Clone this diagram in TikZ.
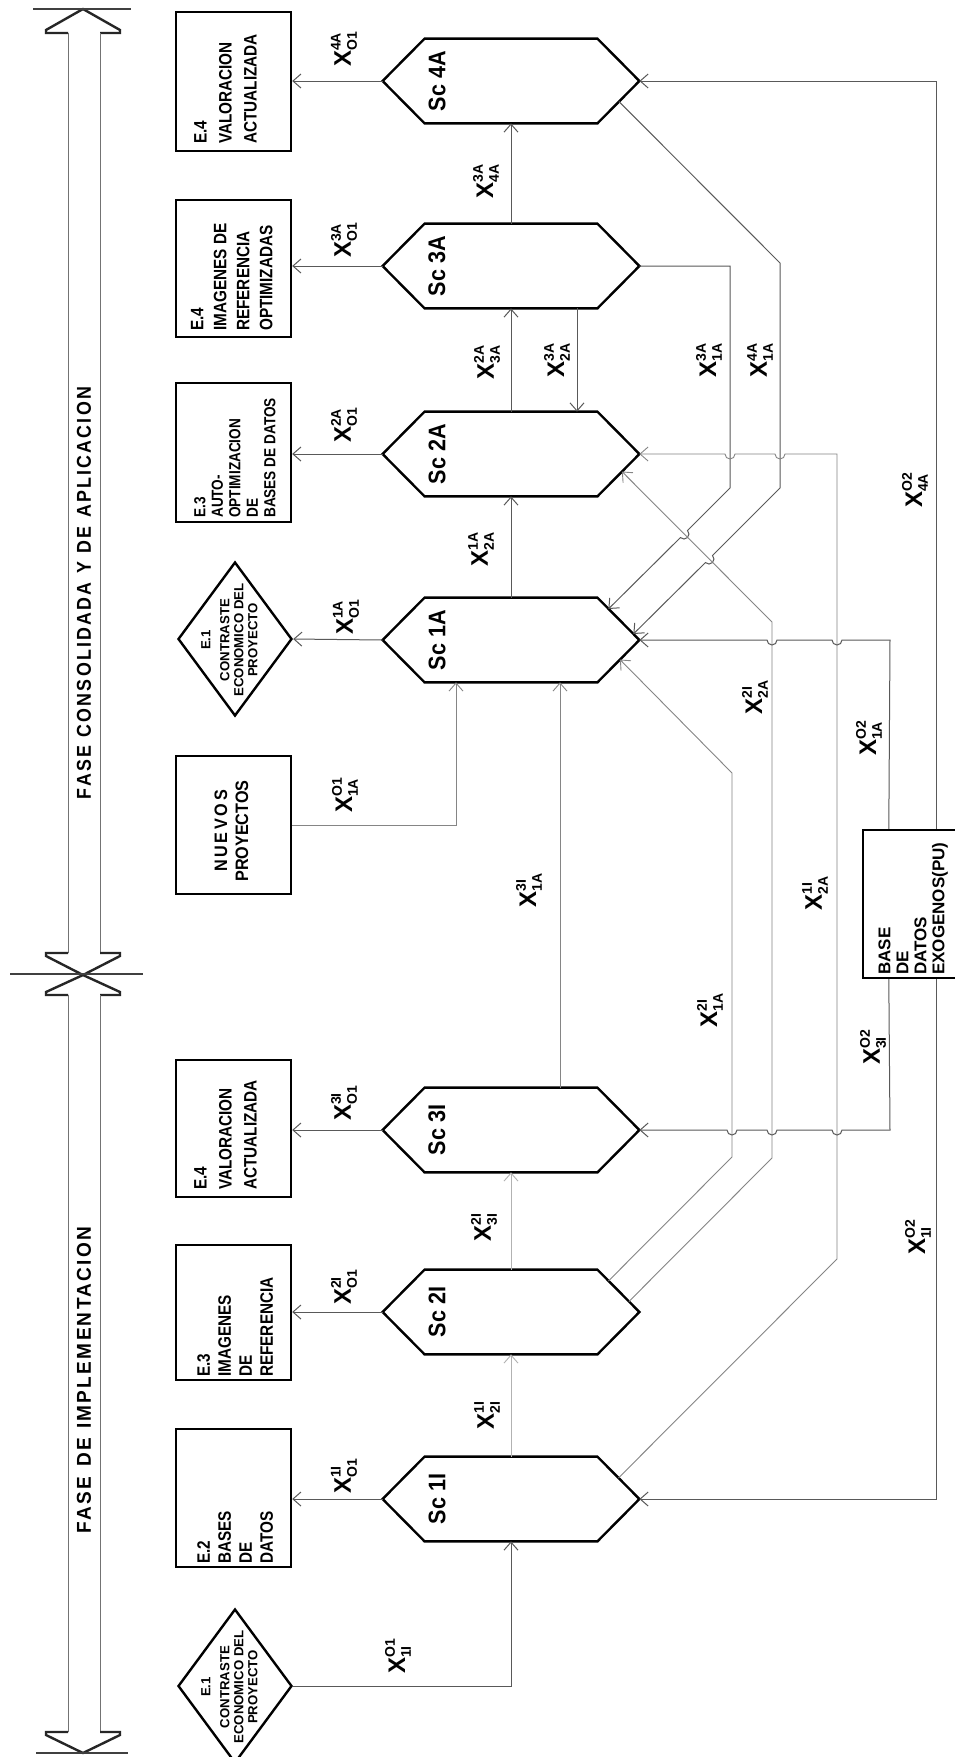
\documentclass[tikz,border=0pt]{standalone}
\usepackage{fontspec}
\usepackage{graphicx}
\setmainfont{Liberation Sans}
\usetikzlibrary{arrows.meta,shapes.geometric,calc}
\newcommand{\xl}[2]{$\mbox{X}^{\mbox{\fontsize{7}{7}\selectfont #1}}_{\mbox{\fontsize{7}{7}\selectfont #2}}$}
\newcommand{\bt}[1]{\scalebox{0.85}[1]{\begin{tabular}{@{}l@{}}#1\end{tabular}}}
\newcommand{\ct}[1]{\begin{tabular}{@{}c@{}}#1\end{tabular}}
\begin{document}
\begin{tikzpicture}[x=0.5pt,y=-0.5pt,
  ebox/.style={draw=black, line width=1.2pt, minimum width=57.5pt, inner sep=0pt},
  dia/.style={diamond, draw=black, line width=1.2pt, minimum width=57pt, minimum height=77pt, inner sep=0pt},
  hexa/.style={rectangle, minimum width=128pt, minimum height=42pt, inner sep=0pt},
  hexline/.style={draw=black, line width=1.2pt, line join=miter},
  conn/.style={draw=black!65, line width=0.5pt},
  midline/.style={draw=black!48, line width=0.45pt},
  faint/.style={draw=black!30, line width=0.45pt},
  arr/.style={-{Straight Barb[length=4pt,width=7pt]}},
  lab/.style={rotate=90, inner sep=0pt, font=\fontsize{12}{12}\selectfont\bfseries},
  hlab/.style={rotate=90, inner sep=0pt, font=\fontsize{12}{12}\selectfont\bfseries},
  btxt/.style={rotate=90, anchor=north west, inner sep=0pt},
  arrowhd/.style={draw=black!85, line width=1.2pt, line join=miter},
  shaft/.style={draw=black!55, line width=0.5pt},
  barline/.style={draw=black!75, line width=1pt}
]
\fill[white] (0,0) rectangle (954,1757);
\useasboundingbox (0,0) rectangle (954,1757);

% ---------- phase arrows ----------
\draw[arrowhd] (68,33) -- (46,33) -- (46,30) -- (83,9) -- (120,30) -- (120,33) -- (100,33);
\draw[shaft] (68,33) -- (68,953) (100,33) -- (100,953);
\draw[arrowhd] (68,953) -- (46,953) -- (46,956) -- (83,975) -- (120,956) -- (120,953) -- (100,953);
\draw[arrowhd] (68,995) -- (46,995) -- (46,992) -- (83,975) -- (120,992) -- (120,995) -- (100,995);
\draw[shaft] (68,995) -- (68,1732) (100,995) -- (100,1732);
\draw[arrowhd] (68,1732) -- (46,1732) -- (46,1735) -- (83,1753) -- (120,1735) -- (120,1732) -- (100,1732);
\draw[barline] (33,9) -- (131,9);
\draw[barline] (10,974) -- (143,974);
\draw[barline] (36,1753) -- (128,1753);
\node[rotate=90, inner sep=0pt, font=\bfseries] (ph1) at (84,593)
  {\resizebox{206pt}{7pt}{\addfontfeatures{LetterSpace=12}FASE\enspace CONSOLIDADA\enspace Y\enspace DE\enspace APLICACION}};
\node[rotate=90, inner sep=0pt, font=\bfseries] (ph2) at (84,1380)
  {\resizebox{153pt}{7pt}{\addfontfeatures{LetterSpace=12}FASE\enspace DE\enspace IMPLEMENTACION}};

% ---------- E boxes ----------
\node[ebox, minimum height=69.5pt] (b4A) at (233.5,81.5) {};
\node[ebox, minimum height=68.5pt] (b3A) at (233.5,268.5) {};
\node[ebox, minimum height=69.5pt] (b2A) at (233.5,452.5) {};
\node[dia] (d1A) at (235,639) {};
\node[ebox, minimum height=69pt] (bN) at (233.5,825) {};
\node[ebox, minimum height=68.5pt] (b3I) at (233.5,1128.5) {};
\node[ebox, minimum height=67.5pt] (b2I) at (233.5,1312.5) {};
\node[ebox, minimum height=69pt] (b1I) at (233.5,1498) {};
\node[dia] (d1I) at (235,1686) {};
\node[draw=black, line width=1.2pt, minimum width=48.5pt, minimum height=74pt, inner sep=0pt] (base) at (911.5,904) {};

\node[btxt, font=\fontsize{9}{12.5}\selectfont\bfseries] (t4A) at ($(b4A.south west)+(14,-8)$) {\bt{E.4\\VALORACION\\ACTUALIZADA}};
\node[btxt, font=\fontsize{9}{11.5}\selectfont\bfseries] (t3A) at ($(b3A.south west)+(12,-7)$) {\bt{E.4\\IMAGENES DE\\REFERENCIA\\OPTIMIZADAS}};
\node[btxt, font=\fontsize{8}{8.75}\selectfont\bfseries] (t2A) at ($(b2A.south west)+(18,-5)$) {\bt{E.3\\AUTO-\\OPTIMIZACION\\DE\\BASES DE DATOS}};
\node[rotate=90, inner sep=0pt, font=\fontsize{6.6}{7}\selectfont\bfseries] (td1A) at ($(d1A.center)+(-4,1)$) {\ct{E.1\\[2.5pt]CONTRASTE\\ECONOMICO DEL\\PROYECTO}};
\node[rotate=90, inner sep=0pt, font=\fontsize{9}{10.5}\selectfont\bfseries] (tN) at ($(bN.center)+(0,6)$) {\scalebox{0.9}[1]{\begin{tabular}{@{}c@{}}N\,U\,E\,V\,O\,S\\PROYECTOS\end{tabular}}};
\node[btxt, font=\fontsize{9}{12.5}\selectfont\bfseries] (t3I) at ($(b3I.south west)+(14,-8)$) {\bt{E.4\\VALORACION\\ACTUALIZADA}};
\node[btxt, font=\fontsize{9}{10.5}\selectfont\bfseries] (t2I) at ($(b2I.south west)+(20,-4)$) {\bt{E.3\\IMAGENES\\DE\\REFERENCIA}};
\node[btxt, font=\fontsize{9}{10.5}\selectfont\bfseries] (t1I) at ($(b1I.south west)+(20,-4)$) {\bt{E.2\\BASES\\DE\\DATOS}};
\node[rotate=90, inner sep=0pt, font=\fontsize{6.6}{7}\selectfont\bfseries] (td1I) at ($(d1I.center)+(-4,1)$) {\ct{E.1\\[2.5pt]CONTRASTE\\ECONOMICO DEL\\PROYECTO}};
\node[btxt, font=\fontsize{8.5}{9}\selectfont\bfseries] (tB) at ($(base.south west)+(15.5,-4)$) {\begin{tabular}{@{}l@{}}BASE\\DE\\DATOS\\EXOGENOS(PU)\end{tabular}};

% ---------- hexagons ----------
\node[hexa] (s4A) at (511,81) {};
\node[hexa] (s3A) at (511,266) {};
\node[hexa] (s2A) at (511,454) {};
\node[hexa] (s1A) at (511,640) {};
\node[hexa] (s3I) at (511,1130) {};
\node[hexa] (s2I) at (511,1312) {};
\node[hexa] (s1I) at (511,1499) {};
\foreach \h in {s4A,s3A,s2A,s1A,s3I,s2I,s1I}{
  \draw[hexline] (\h.west) -- ([xshift=21pt]\h.north west) -- ([xshift=-21pt]\h.north east) -- (\h.east) -- ([xshift=-21pt]\h.south east) -- ([xshift=21pt]\h.south west) -- cycle;
}
\node[hlab] (n4A) at ($(s4A.center)+(-74,0)$) {\scalebox{0.9}[1]{Sc 4A}};
\node[hlab] (n3A) at ($(s3A.center)+(-74,0)$) {\scalebox{0.9}[1]{Sc 3A}};
\node[hlab] (n2A) at ($(s2A.center)+(-74,0)$) {\scalebox{0.9}[1]{Sc 2A}};
\node[hlab] (n1A) at ($(s1A.center)+(-74,0)$) {\scalebox{0.9}[1]{Sc 1A}};
\node[hlab] (n3I) at ($(s3I.center)+(-74,0)$) {\scalebox{0.9}[1]{Sc 3I}};
\node[hlab] (n2I) at ($(s2I.center)+(-74,0)$) {\scalebox{0.9}[1]{Sc 2I}};
\node[hlab] (n1I) at ($(s1I.center)+(-74,0)$) {\scalebox{0.9}[1]{Sc 1I}};

% ---------- bend coordinates ----------
\coordinate (k3a) at (730,488);
\coordinate (h3a) at (687.5,530.5);
\coordinate (k4a1) at (780,263);
\coordinate (k4a2) at (780,488);
\coordinate (h4a) at (712.5,555.5);
\coordinate (k21b1) at (772,1158);
\coordinate (k21b2) at (772,622);
\coordinate (k21a1) at (732,1157);
\coordinate (k21a2) at (732,773);
\coordinate (k11a) at (837,1259);
\coordinate (k11b) at (837,454);
\coordinate (h11a) at (785,454);
\coordinate (h11b) at (735,454);
\coordinate (ko1) at (890,640);
\coordinate (ho1) at (842,640);
\coordinate (ho2) at (777,640);
\coordinate (ko3) at (890,1130);
\coordinate (ho3) at (842,1130);
\coordinate (ho4) at (777,1130);
\coordinate (ho5) at (737,1130);

% ---------- connectors ----------
\draw[conn,arr] (s4A.west) -- (s4A.west -| b4A.east);
\draw[conn,arr] (s3A.west) -- (s3A.west -| b3A.east);
\draw[conn,arr] (s2A.west) -- (s2A.west -| b2A.east);
\draw[conn,arr] (s1A.west) -- (d1A.east);
\draw[conn,arr] (s3I.west) -- (s3I.west -| b3I.east);
\draw[conn,arr] (s2I.west) -- (s2I.west -| b2I.east);
\draw[conn,arr] (s1I.west) -- (s1I.west -| b1I.east);

\draw[conn,arr] (s1A.north) -- (s2A.south);
\draw[conn,arr] (s2A.north) -- (s3A.south);
\draw[conn,arr] (s3A.north) -- (s4A.south);
\draw[conn,arr] ($(s3A.south)+(66,0)$) -- ($(s2A.north)+(66,0)$);

\draw[conn,arr] (s3A.east) -| (k3a) -- (h3a) arc[start angle=45,end angle=-135,radius=2.5pt] -- ($(s1A.east)+(-31,-31)$);
\draw[conn,arr] ($(s4A.east)+(-20.5,20.5)$) -- (k4a1) -- (k4a2) -- (h4a) arc[start angle=45,end angle=-135,radius=2.5pt] -- ($(s1A.east)+(-6,-6)$);
\draw[midline,arr] ($(s2I.east)+(-10.5,-10.5)$) -- (k21b1) -- (k21b2) -- ($(s2A.east)+(-17.5,17.5)$);
\draw[midline,arr] ($(s2I.east)+(-31,-31)$) -- (k21a1) -- (k21a2) -- ($(s1A.east)+(-19.5,19.5)$);
\draw[midline,arr] ($(s1I.east)+(-21,-21)$) -- (k11a) -- (k11b) -- (h11a) arc[start angle=0,end angle=-180,radius=2.5pt] -- (h11b) arc[start angle=0,end angle=-180,radius=2.5pt] -- (s2A.east);

\draw[conn,arr] ($(base.north west)+(75,0)$) |- (s4A.east);
\draw[conn,arr] ($(base.north west)+(27,0)$) -- (ko1) -- (ho1) arc[start angle=0,end angle=-180,radius=2.5pt] -- (ho2) arc[start angle=0,end angle=-180,radius=2.5pt] -- (s1A.east);
\draw[conn,arr] ($(base.south west)+(27,0)$) -- (ko3) -- (ho3) arc[start angle=0,end angle=-180,radius=2.5pt] -- (ho4) arc[start angle=0,end angle=-180,radius=2.5pt] -- (ho5) arc[start angle=0,end angle=-180,radius=2.5pt] -- (s3I.east);
\draw[conn,arr] ($(base.south west)+(75,0)$) |- (s1I.east);

\draw[midline,arr] (bN.east) -| ($(s1A.south)+(-55,0)$);
\draw[midline,arr] ($(s3I.north)+(49,0)$) -- ($(s1A.south)+(49,0)$);
\draw[faint,arr] (s2I.north) -- (s3I.south);
\draw[faint,arr] (s1I.north) -- (s2I.south);
\draw[conn,arr] (d1I.east) -| (s1I.south);

% ---------- flow labels ----------
\node[lab] (l1) at (344,49) {\xl{4A}{O1}};
\node[lab] (l2) at (486,181) {\xl{3A}{4A}};
\node[lab] (l3) at (344,240) {\xl{3A}{O1}};
\node[lab] (l4) at (487,362) {\xl{2A}{3A}};
\node[lab] (l5) at (557,360) {\xl{3A}{2A}};
\node[lab] (l6) at (709,360) {\xl{3A}{1A}};
\node[lab] (l7) at (760,360) {\xl{4A}{1A}};
\node[lab] (l8) at (344,425) {\xl{2A}{O1}};
\node[lab] (l9) at (915,490) {\xl{O2}{4A}};
\node[lab] (l10) at (481,549) {\xl{1A}{2A}};
\node[lab] (l11) at (346,617) {\xl{1A}{O1}};
\node[lab] (l12) at (755,697) {\xl{2I}{2A}};
\node[lab] (l13) at (869,738) {\xl{O2}{1A}};
\node[lab] (l14) at (345,795) {\xl{O1}{1A}};
\node[lab] (l15) at (529,890) {\xl{3I}{1A}};
\node[lab] (l16) at (815,893) {\xl{1I}{2A}};
\node[lab] (l17) at (710,1010) {\xl{2I}{1A}};
\node[lab] (l18) at (873,1047) {\xl{O2}{3I}};
\node[lab] (l19) at (344,1103) {\xl{3I}{O1}};
\node[lab] (l20) at (484,1227) {\xl{2I}{3I}};
\node[lab] (l21) at (918,1237) {\xl{O2}{1I}};
\node[lab] (l22) at (344,1287) {\xl{2I}{O1}};
\node[lab] (l23) at (487,1415) {\xl{1I}{2I}};
\node[lab] (l24) at (344,1476) {\xl{1I}{O1}};
\node[lab] (l25) at (398,1656) {\xl{O1}{1I}};
\end{tikzpicture}
\end{document}
